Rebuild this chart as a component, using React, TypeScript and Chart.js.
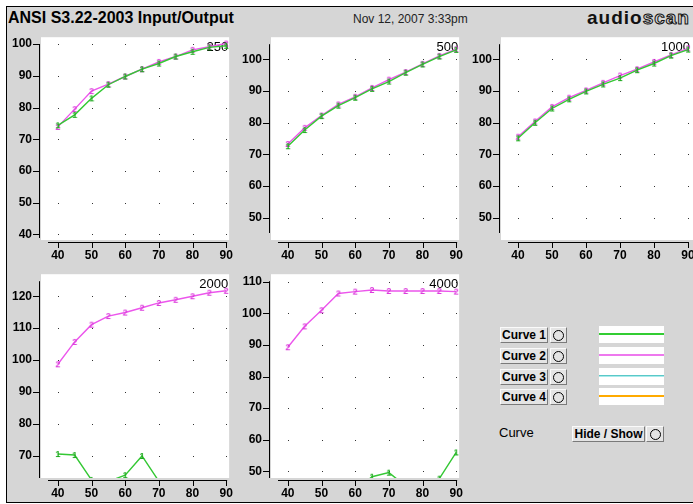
import React, { useEffect, useRef } from "react";
import { Chart, registerables } from "chart.js";

Chart.register(...registerables);

// ---------- data ----------
const inputLevels = [40, 45, 50, 55, 60, 65, 70, 75, 80, 85, 90];
const xTickValues = [40, 50, 60, 70, 80, 90];

const f250Curve1 = [74.4, 77.7, 82.9, 87.2, 89.8, 92.1, 93.9, 96.1, 97.6, 99.0, 99.5];
const f250Curve2 = [73.9, 79.5, 85.2, 87.4, 89.8, 92.1, 94.4, 96.1, 98.2, 99.2, 100.2];
const f250YTicks = [40, 50, 60, 70, 80, 90, 100];

const f500Curve1 = [72.6, 77.7, 82.1, 85.4, 87.9, 90.7, 93.0, 95.8, 98.4, 100.9, 103.0];
const f500Curve2 = [73.3, 78.4, 82.3, 85.8, 88.2, 91.0, 93.6, 96.0, 98.6, 101.1, 103.2];
const f500YTicks = [50, 60, 70, 80, 90, 100];

const f1000Curve1 = [75.1, 80.0, 84.5, 87.4, 89.9, 92.1, 94.1, 96.6, 98.7, 101.2, 103.1];
const f1000Curve2 = [75.6, 80.4, 85.0, 87.9, 90.2, 92.6, 94.9, 96.9, 99.2, 101.4, 103.5];
const f1000YTicks = [50, 60, 70, 80, 90, 100];

const f2000Curve1 = [70.6, 70.3, 62.5, 62.0, 64.0, 70.0, 62.1, 60.0, 59.0, 60.0, 58.0];
const f2000Curve2 = [98.7, 105.7, 111.1, 113.8, 114.9, 116.4, 117.9, 118.9, 120.0, 121.1, 121.7];
const f2000YTicks = [70, 80, 90, 100, 110, 120];

const f4000Curve1 = [44.0, 45.0, 45.0, 44.0, 44.0, 48.3, 49.6, 45.4, 44.0, 47.7, 56.0];
const f4000Curve2 = [89.3, 95.9, 101.0, 106.3, 106.9, 107.4, 107.1, 107.1, 107.1, 107.1, 106.9];
const f4000YTicks = [50, 60, 70, 80, 90, 100, 110];

const legendLabels = ["Curve 1", "Curve 2", "Curve 3", "Curve 4"];

// ---------- styles ----------
const BG = "#d6d6d6";
const GREEN = "rgb(52,200,52)";
const MAGENTA = "rgb(236,86,236)";
const FONT = '"Liberation Sans", Arial, sans-serif';

function makeMarker(ch: string, color: string) {
  const c = document.createElement("canvas");
  c.width = 8;
  c.height = 10;
  const ctx = c.getContext("2d")!;
  ctx.fillStyle = color;
  ctx.font = `bold 9px ${FONT}`;
  ctx.textAlign = "center";
  ctx.textBaseline = "middle";
  ctx.fillText(ch, 4, 5.5);
  return c;
}

const panelPlugin = {
  id: "panelDeco",
  beforeDraw(chart: any, _args: any, opts: any) {
    const { ctx, chartArea: a, scales } = chart;
    ctx.save();
    ctx.fillStyle = "#ffffff";
    ctx.fillRect(a.left, a.top, a.right - a.left, a.bottom - a.top);
    // dotted grid intersections
    ctx.fillStyle = "#333";
    for (const xv of opts.xTicks) {
      for (const yv of opts.yTicks) {
        const px = Math.round(scales.x.getPixelForValue(xv));
        const py = Math.round(scales.y.getPixelForValue(yv));
        ctx.fillRect(px, py, 1, 1);
      }
    }
    ctx.fillStyle = "#000";
    // y axis line
    const yTop = a.top + opts.axisTop;
    const yBot = a.bottom - opts.axisBottom;
    ctx.fillRect(a.left - 2, yTop, 1, yBot - yTop);
    for (const yv of opts.yTicks) {
      const py = Math.round(scales.y.getPixelForValue(yv));
      ctx.fillRect(a.left - 8, py, 7, 1);
    }
    // x axis line
    const xy = a.bottom + 2;
    ctx.fillRect(a.left + 7, xy, a.right - a.left - 9 - opts.xAxisRightExtra, 1);
    for (const xv of opts.xTicks) {
      const px = Math.round(scales.x.getPixelForValue(xv));
      ctx.fillRect(px, xy, 1, 6);
    }
    ctx.restore();
  },
  beforeDatasetsDraw(chart: any, _args: any, opts: any) {
    const { ctx, chartArea: a } = chart;
    ctx.save();
    ctx.fillStyle = "#000";
    ctx.font = `13px ${FONT}`;
    ctx.textAlign = "right";
    ctx.textBaseline = "middle";
    ctx.fillText(opts.title, a.right - opts.titleInset, a.top + 10);
    ctx.restore();
  },
};

type PanelProps = {
  title: string;
  curve1: number[];
  curve2: number[];
  yTicks: number[];
  yMin: number;
  yMax: number;
  xMax: number;
  left: number;
  top: number;
  w: number;
  h: number;
  axisTop: number;
  axisBottom: number;
  titleInset: number;
  xAxisRightExtra: number;
};

const Y_AXIS_W = 40;
const X_AXIS_H = 25;
const PAD_T = 10;
const PAD_R = 10;

function Panel(p: PanelProps) {
  const ref = useRef<HTMLCanvasElement>(null);
  const cw = Y_AXIS_W + p.w + PAD_R;
  const ch = PAD_T + p.h + X_AXIS_H;
  useEffect(() => {
    const m1 = makeMarker("1", "rgb(30,170,30)");
    const m2 = makeMarker("2", "rgb(220,60,220)");
    const tickFont = { family: FONT, size: 12, weight: "bold" as const };
    const chart = new Chart(ref.current!, {
      type: "line",
      data: {
        datasets: [
          {
            label: "Curve 1",
            data: inputLevels.map((x, i) => ({ x, y: p.curve1[i] })),
            borderColor: GREEN,
            borderWidth: 1.4,
            pointStyle: m1 as any,
            pointRadius: 4,
            tension: 0,
          },
          {
            label: "Curve 2",
            data: inputLevels.map((x, i) => ({ x, y: p.curve2[i] })),
            borderColor: MAGENTA,
            borderWidth: 1.4,
            pointStyle: m2 as any,
            pointRadius: 4,
            tension: 0,
          },
        ],
      },
      options: {
        animation: false,
        responsive: false,
        maintainAspectRatio: false,
        devicePixelRatio: 1,
        events: [],
        layout: { padding: { top: PAD_T, right: PAD_R, left: 0, bottom: 0 } },
        scales: {
          x: {
            type: "linear",
            min: 35,
            max: p.xMax,
            afterBuildTicks: (axis: any) => {
              axis.ticks = xTickValues.map((v) => ({ value: v }));
            },
            afterFit: (s: any) => {
              s.height = X_AXIS_H;
            },
            grid: { display: false, drawTicks: false },
            border: { display: false },
            ticks: { font: tickFont, color: "#000", padding: 8, maxRotation: 0, autoSkip: false },
          },
          y: {
            type: "linear",
            min: p.yMin,
            max: p.yMax,
            afterBuildTicks: (axis: any) => {
              axis.ticks = p.yTicks.map((v) => ({ value: v }));
            },
            afterFit: (s: any) => {
              s.width = Y_AXIS_W;
            },
            grid: { display: false, drawTicks: false },
            border: { display: false },
            ticks: { font: tickFont, color: "#000", padding: 9, autoSkip: false },
          },
        },
        plugins: {
          legend: { display: false },
          tooltip: { enabled: false },
          title: { display: false },
          panelDeco: {
            title: p.title,
            xTicks: xTickValues,
            yTicks: p.yTicks,
            axisTop: p.axisTop,
            axisBottom: p.axisBottom,
            titleInset: p.titleInset,
            xAxisRightExtra: p.xAxisRightExtra,
          },
        } as any,
      },
      plugins: [panelPlugin],
    });
    return () => chart.destroy();
  }, []);
  return (
    <canvas
      ref={ref}
      width={cw}
      height={ch}
      style={{
        position: "absolute",
        left: p.left - Y_AXIS_W,
        top: p.top - PAD_T,
        width: cw,
        height: ch,
      }}
    />
  );
}

const btnBase: React.CSSProperties = {
  position: "absolute",
  boxSizing: "border-box",
  background: "#e4e4e4",
  borderTop: "1px solid #fafafa",
  borderLeft: "1px solid #fafafa",
  borderRight: "1px solid #7a7a7a",
  borderBottom: "1px solid #7a7a7a",
  font: `bold 12px ${FONT}`,
  color: "#000",
  display: "flex",
  alignItems: "center",
  justifyContent: "center",
  whiteSpace: "nowrap",
};

function Circle({ left, top, w }: { left: number; top: number; w: number }) {
  return (
    <div style={{ ...btnBase, left, top, width: w, height: 16 }}>
      <div
        style={{
          width: 9,
          height: 9,
          border: "1.5px solid #000",
          borderRadius: "50%",
        }}
      />
    </div>
  );
}

const legendRowTops = [327, 348, 369, 389];

function Swatch({ top, i }: { top: number; i: number }) {
  const lines: React.ReactNode[] = [];
  if (i === 0) lines.push(<div key="a" style={{ position: "absolute", left: 0, right: 0, top: 7, height: 1.5, background: "rgb(50,205,50)" }} />);
  if (i === 1) lines.push(<div key="a" style={{ position: "absolute", left: 0, right: 0, top: 7, height: 2, background: "rgb(238,120,238)" }} />);
  if (i === 2) {
    lines.push(<div key="a" style={{ position: "absolute", left: 0, right: 0, top: 7, height: 1, background: "rgb(90,200,200)" }} />);
    lines.push(<div key="b" style={{ position: "absolute", left: 0, right: 0, top: 8, height: 1, background: "rgb(170,235,235)" }} />);
  }
  if (i === 3) lines.push(<div key="a" style={{ position: "absolute", left: 0, right: 0, top: 7, height: 1.5, background: "rgb(255,170,0)" }} />);
  return (
    <div style={{ position: "absolute", left: 599, top, width: 65, height: 17, background: "#fff" }}>
      {lines}
    </div>
  );
}

export default function App() {
  return (
    <div
      style={{
        position: "absolute",
        left: 0,
        top: 0,
        width: 693,
        height: 504,
        overflow: "hidden",
        background: "#fff",
        fontFamily: FONT,
      }}
    >
      <div
        style={{
          position: "absolute",
          left: 6,
          top: 6,
          width: 700,
          height: 497,
          boxSizing: "border-box",
          borderTop: "1px solid #000",
          borderLeft: "1px solid #000",
          borderBottom: "1px solid #000",
          background: BG,
        }}
      />
      {/* header */}
      <div style={{ position: "absolute", left: 8, top: 10, font: `bold 16px ${FONT}`, lineHeight: "16px", color: "#000", whiteSpace: "nowrap" }}>
        ANSI S3.22-2003 Input/Output
      </div>
      <div style={{ position: "absolute", left: 353, top: 13, font: `12px ${FONT}`, lineHeight: "12px", color: "#222", whiteSpace: "nowrap" }}>
        Nov 12, 2007 3:33pm
      </div>
      <div style={{ position: "absolute", left: 587, top: 8, font: `bold 19px ${FONT}`, lineHeight: "19px", letterSpacing: 1, whiteSpace: "nowrap", color: "#111" }}>
        audio
        <span style={{ color: BG, WebkitTextStroke: "1px #111" } as any}>scan</span>
      </div>

      {/* panels */}
      <Panel title="250" curve1={f250Curve1} curve2={f250Curve2} yTicks={f250YTicks} yMin={38.2} yMax={102.2} xMax={90.88}
        left={41} top={31} w={190} h={209} axisTop={7} axisBottom={2} titleInset={1} xAxisRightExtra={0} />
      <Panel title="500" curve1={f500Curve1} curve2={f500Curve2} yTicks={f500YTicks} yMin={43.0} yMax={107.0} xMax={90.88}
        left={271} top={31} w={190} h={209} axisTop={7} axisBottom={7} titleInset={1} xAxisRightExtra={0} />
      <Panel title="1000" curve1={f1000Curve1} curve2={f1000Curve2} yTicks={f1000YTicks} yMin={43.0} yMax={107.0} xMax={91.47}
        left={501} top={31} w={192} h={209} axisTop={7} axisBottom={7} titleInset={3} xAxisRightExtra={2} />
      <Panel title="2000" curve1={f2000Curve1} curve2={f2000Curve2} yTicks={f2000YTicks} yMin={63.1} yMax={126.9} xMax={90.88}
        left={41} top={268} w={190} h={210} axisTop={7} axisBottom={0} titleInset={1} xAxisRightExtra={0} />
      <Panel title="4000" curve1={f4000Curve1} curve2={f4000Curve2} yTicks={f4000YTicks} yMin={47.9} yMax={112.4} xMax={90.88}
        left={271} top={268} w={190} h={210} axisTop={7} axisBottom={0} titleInset={1} xAxisRightExtra={0} />

      {/* legend controls */}
      {legendLabels.map((lab, i) => (
        <React.Fragment key={lab}>
          <div style={{ ...btnBase, left: 500, top: legendRowTops[i], width: 48, height: 16 }}>{lab}</div>
          <Circle left={550} top={legendRowTops[i]} w={17} />
          <Swatch top={legendRowTops[i] - 1} i={i} />
        </React.Fragment>
      ))}
      <div style={{ position: "absolute", left: 499, top: 426, font: `13px ${FONT}`, lineHeight: "14px", color: "#000" }}>Curve</div>
      <div style={{ ...btnBase, left: 572, top: 426, width: 73, height: 16 }}>Hide / Show</div>
      <Circle left={646} top={426} w={18} />
    </div>
  );
}
